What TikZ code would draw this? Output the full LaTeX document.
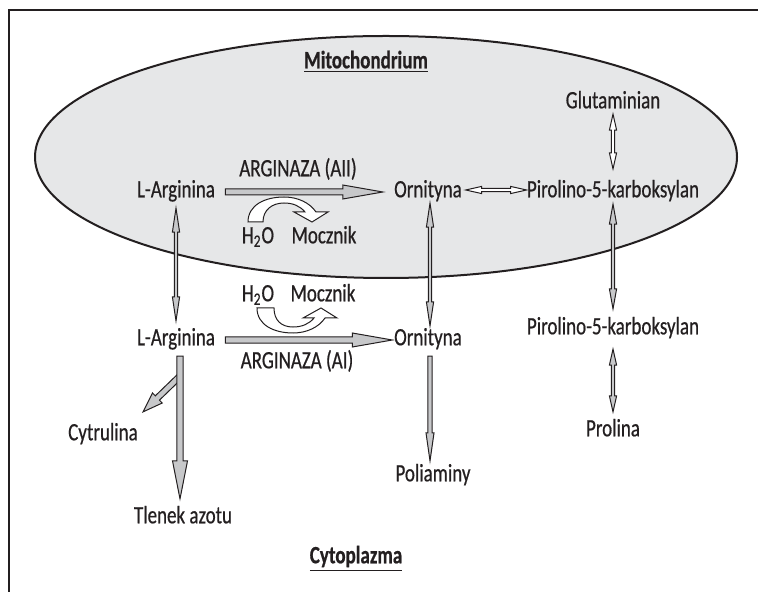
\documentclass[tikz,border=0pt]{standalone}
\usepackage{fontspec}
\setmainfont{Carlito}[FakeStretch=0.76, FakeBold=0.6]
\usepackage{tikz}
\usetikzlibrary{calc}
\definecolor{mitofill}{RGB}{230,231,232}
\definecolor{rxnfill}{RGB}{199,200,202}
\definecolor{ink}{RGB}{35,31,32}

% block arrows drawn as outlined polygons between two points
\tikzset{
  ar shaft/.store in=\arshaft, ar headl/.store in=\arheadl, ar headw/.store in=\arheadw,
  ar shaft=1.5pt, ar headl=20pt, ar headw=3.5pt,
  onehead/.style={to path={
      let \p1=(\tikztostart), \p2=(\tikztotarget), \n1={atan2(\y2-\y1,\x2-\x1)},
          \p3=($(\p2)!\arheadl!(\p1)$) in
      ([shift={(\n1+90:\arshaft)}]\p1) -- ([shift={(\n1+90:\arshaft)}]\p3)
      -- ([shift={(\n1+90:\arheadw)}]\p3) -- (\p2)
      -- ([shift={(\n1-90:\arheadw)}]\p3) -- ([shift={(\n1-90:\arshaft)}]\p3)
      -- ([shift={(\n1-90:\arshaft)}]\p1) -- cycle}},
  twohead/.style={to path={
      let \p1=(\tikztostart), \p2=(\tikztotarget), \n1={atan2(\y2-\y1,\x2-\x1)},
          \p3=($(\p2)!\arheadl!(\p1)$), \p4=($(\p1)!\arheadl!(\p2)$) in
      (\p1) -- ([shift={(\n1+90:\arheadw)}]\p4) -- ([shift={(\n1+90:\arshaft)}]\p4)
      -- ([shift={(\n1+90:\arshaft)}]\p3) -- ([shift={(\n1+90:\arheadw)}]\p3) -- (\p2)
      -- ([shift={(\n1-90:\arheadw)}]\p3) -- ([shift={(\n1-90:\arshaft)}]\p3)
      -- ([shift={(\n1-90:\arshaft)}]\p4) -- ([shift={(\n1-90:\arheadw)}]\p4) -- cycle}},
}

\begin{document}
\begin{tikzpicture}[x=0.5pt, y=-0.5pt,
    lbl/.style={font=\fontsize{12.5}{14}\selectfont, text=ink, inner sep=0pt,
                text height=8pt, text depth=2.7pt},
    title/.style={lbl, font=\fontsize{12.5}{14}\selectfont\bfseries},
    rxn/.style={onehead, draw=ink, fill=rxnfill, line width=0.5pt},
    eqm/.style={twohead, draw=ink, fill=rxnfill, line width=0.5pt,
                ar shaft=0.8pt, ar headl=8pt, ar headw=1.8pt},
    side/.style={draw=ink, fill=white, line width=0.5pt},
  ]
  \useasboundingbox (0,0) rectangle (758,592);

  % --- frame and mitochondrium ---
  \draw[ink, line width=1pt, fill=mitofill] (386,157) ellipse [x radius=351, y radius=121];
  \draw[ink, line width=1pt] (9,592) -- (9,10) -- (758,10);

  % --- compounds ---
  \node[title] (mito) at (366,63) {\underline{Mitochondrium}};
  \node[title] (cytop) at (356,558) {\underline{Cytoplazma}};
  \node[lbl] (glut) at (613,103) {Glutaminian};
  \node[lbl] (argm) at (176,192) {L-Arginina};
  \node[lbl] (ornm) at (428,192) {Ornityna};
  \node[lbl] (pirm) at (613,192) {Pirolino-5-karboksylan};
  \node[lbl] (argc) at (176,340) {L-Arginina};
  \node[lbl] (ornc) at (428,340) {Ornityna};
  \node[lbl] (pirc) at (613,329) {Pirolino-5-karboksylan};
  \node[lbl] (prol) at (613,431) {Prolina};
  \node[lbl] (poli) at (433,476) {Poliaminy};
  \node[lbl] (cytr) at (103,435) {Cytrulina};
  \node[lbl] (no) at (183,518) {Tlenek azotu};

  % --- enzymes and side products ---
  \node[lbl] (aii) at (298,171) {ARGINAZA (AII)};
  \node[lbl] (ai) at (297,363) {ARGINAZA (AI)};
  \node[lbl] (h2om) at (258,238) {H\textsubscript{2}O};
  \node[lbl] (mocm) at (324,238) {Mocznik};
  \node[lbl] (h2oc) at (258,296) {H\textsubscript{2}O};
  \node[lbl] (mocc) at (323,296) {Mocznik};

  % --- reactions ---
  \draw[rxn] ([xshift=5pt]argm.east) to ([xshift=-5.5pt]ornm.west);
  \draw[rxn] ([xshift=5pt]argc.east) to ([xshift=-0.75pt]ornc.west);
  \draw[rxn, ar shaft=1.1pt, ar headl=14pt, ar headw=2pt]
    ([shift={(1pt,-2.5pt)}]ornc.south) to ([xshift=1pt,yshift=2pt]ornc.south |- poli.north);
  \draw[rxn, ar headl=10pt]
    ([shift={(2pt,-12.5pt)}]argc.south) to ([shift={(20pt,6pt)}]cytr.north);
  \draw[rxn, ar shaft=1.6pt, ar headl=19pt, ar headw=3.75pt]
    ([shift={(2pt,-2.5pt)}]argc.south) to ([xshift=2pt,yshift=4pt]argc.south |- no.north);

  % --- equilibria ---
  \draw[eqm, ar headl=12pt] ([yshift=-2.5pt]argm.south) to ([yshift=4pt]argc.north);
  \draw[eqm, ar headl=12pt] ([xshift=1pt]ornm.south) to ([xshift=1pt,yshift=1.5pt]ornc.north);
  \draw[eqm, fill=white] ([shift={(1.75pt,1pt)}]ornm.east) to ([yshift=1pt]pirm.west);
  \draw[eqm, fill=white] (glut.south) to ([yshift=6pt]pirm.north);
  \draw[eqm, ar headl=10pt] ([yshift=-0.5pt]pirm.south) to ([yshift=4.5pt]pirc.north);
  \draw[eqm] ([yshift=-4.5pt]pirc.south) to ([yshift=4pt]prol.north);

  % --- water in, urea out ---
  \draw[side] (248,222) .. controls (248,205) and (265,197) .. (284,197)
    .. controls (298,197) and (310,203) .. (316,212) -- (328,212) -- (312,222)
    -- (294,212) -- (305,212) .. controls (300,206) and (293,203) .. (284,203)
    .. controls (272,203) and (263,210) .. (263,222) -- cycle;
  \draw[side] (257,308) .. controls (257,325) and (274,333) .. (293,333)
    .. controls (307,333) and (319,327) .. (325,318) -- (337,318) -- (321,308)
    -- (303,318) -- (314,318) .. controls (309,324) and (302,327) .. (293,327)
    .. controls (281,327) and (274,320) .. (274,308) -- cycle;
\end{tikzpicture}
\end{document}
